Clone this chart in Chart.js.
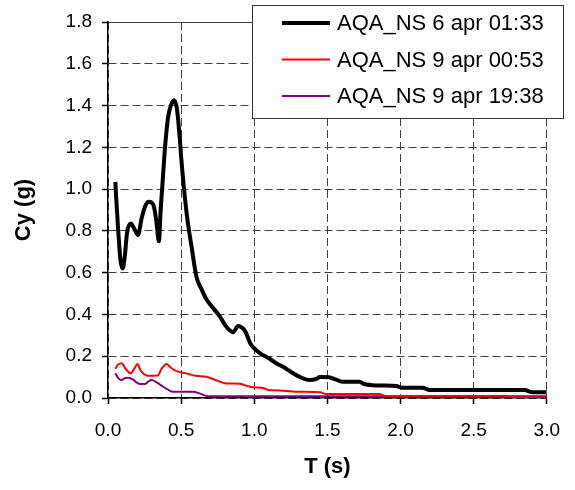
<!DOCTYPE html>
<html>
<head>
<meta charset="utf-8">
<script src="https://cdn.jsdelivr.net/npm/chart.js@4/dist/chart.umd.min.js"></script>
<style>
  html, body { margin: 0; padding: 0; background: #fff; }
  canvas { display: block; }
</style>
</head>
<body>
<canvas id="spectrumChart" width="575" height="490"></canvas>
<script>
// series labels
const seriesNames = ["AQA_NS 6 apr 01:33", "AQA_NS 9 apr 00:53", "AQA_NS 9 apr 19:38"];

// AQA_NS 6 apr 01:33 - period T (s) and Cy (g)
const blackT = [0.05, 0.055, 0.07, 0.085, 0.10, 0.115, 0.13, 0.155, 0.18, 0.205, 0.23, 0.255, 0.28, 0.31, 0.33, 0.348,
    0.36, 0.37, 0.39, 0.41, 0.43, 0.45, 0.47, 0.49, 0.50, 0.52, 0.54, 0.57, 0.605, 0.64, 0.675, 0.72, 0.765, 0.80,
    0.83, 0.855, 0.89, 0.92, 0.945, 0.97, 0.99, 1.04, 1.10, 1.15, 1.20, 1.25, 1.30, 1.38, 1.42, 1.45, 1.51, 1.56,
    1.60, 1.72, 1.75, 1.85, 1.97, 2.01, 2.15, 2.20, 2.85, 2.90, 3.0];
const blackCy = [1.035, 0.97, 0.80, 0.66, 0.62, 0.68, 0.79, 0.835, 0.81, 0.78, 0.86, 0.92, 0.94, 0.925, 0.85, 0.75,
    0.90, 1.00, 1.20, 1.34, 1.40, 1.425, 1.39, 1.25, 1.155, 1.00, 0.87, 0.73, 0.58, 0.52, 0.47, 0.43, 0.39, 0.35,
    0.325, 0.315, 0.345, 0.335, 0.31, 0.265, 0.245, 0.214, 0.19, 0.166, 0.148, 0.125, 0.105, 0.086, 0.09, 0.10, 0.099, 0.088,
    0.078, 0.078, 0.067, 0.06, 0.057, 0.049, 0.049, 0.038, 0.038, 0.027, 0.027];

// AQA_NS 9 apr 00:53
const redT = [0.05, 0.07, 0.093, 0.12, 0.155, 0.18, 0.202, 0.22, 0.245, 0.275, 0.34, 0.366, 0.40, 0.43, 0.468, 0.536,
    0.60, 0.673, 0.74, 0.81, 0.90, 0.95, 0.99, 1.06, 1.10, 1.20, 1.30, 1.45, 1.49, 1.85, 1.90, 2.70, 2.80, 3.0];
const redCy = [0.14, 0.16, 0.166, 0.14, 0.118, 0.14, 0.163, 0.135, 0.115, 0.107, 0.108, 0.14, 0.163, 0.145, 0.129, 0.118,
    0.106, 0.102, 0.085, 0.07, 0.068, 0.058, 0.052, 0.048, 0.038, 0.035, 0.03, 0.028, 0.019, 0.019, 0.01, 0.01, 0.002, 0.002];

// AQA_NS 9 apr 19:38
const purpleT = [0.05, 0.07, 0.093, 0.115, 0.138, 0.17, 0.20, 0.218, 0.252, 0.275, 0.298, 0.33, 0.377, 0.41, 0.445,
    0.58, 0.627, 0.684, 3.0];
const purpleCy = [0.118, 0.095, 0.086, 0.095, 0.097, 0.089, 0.072, 0.067, 0.067, 0.078, 0.086, 0.076, 0.054, 0.04, 0.03,
    0.03, 0.022, 0.008, 0.008];

// axis ranges
const xTicks = [0, 3.0, 0.5];   // min, max, step
const yTicks = [0, 1.8, 0.2];

function toPoints(tArr, cArr) {
    return tArr.map((t, i) => ({ x: t, y: cArr[i] }));
}

const FONT = "'Liberation Sans', Arial, Helvetica, sans-serif";

// legend box drawn over the plot, like the Excel original
const boxLegend = {
    id: "boxLegend",
    afterDraw(chart) {
        const ctx = chart.ctx;
        const x = 252.5, y = 5.5, w = 311, h = 113;
        ctx.save();
        ctx.fillStyle = "#fff";
        ctx.fillRect(x, y, w, h);
        ctx.strokeStyle = "#333";
        ctx.lineWidth = 1;
        ctx.strokeRect(x, y, w, h);
        ctx.font = "22px " + FONT;
        ctx.textBaseline = "middle";
        ctx.fillStyle = "#000";
        chart.data.datasets.forEach((ds, i) => {
            const cy = 23 + i * 36.5;
            ctx.beginPath();
            ctx.strokeStyle = ds.borderColor;
            ctx.lineWidth = ds.borderWidth;
            ctx.moveTo(282, cy);
            ctx.lineTo(330, cy);
            ctx.stroke();
            ctx.fillText(ds.label, 337, cy + 1);
        });
        ctx.restore();
    }
};

const ctx = document.getElementById("spectrumChart").getContext("2d");

new Chart(ctx, {
    type: "line",
    data: {
        datasets: [{
            label: seriesNames[0],
            data: toPoints(blackT, blackCy),
            borderColor: "#000000",
            borderWidth: 4
        }, {
            label: seriesNames[1],
            data: toPoints(redT, redCy),
            borderColor: "#ff0000",
            borderWidth: 2
        }, {
            label: seriesNames[2],
            data: toPoints(purpleT, purpleCy),
            borderColor: "#800080",
            borderWidth: 2
        }]
    },
    options: {
        responsive: false,
        animation: false,
        devicePixelRatio: 1,
        layout: { padding: { top: 22, right: 27, left: 0, bottom: 0 } },
        elements: {
            point: { radius: 0 },
            line: { cubicInterpolationMode: "monotone", fill: false }
        },
        plugins: {
            legend: { display: false },
            tooltip: { enabled: false }
        },
        scales: {
            x: {
                type: "linear",
                min: xTicks[0],
                max: xTicks[1],
                afterFit: scale => { scale.height = 92; },
                ticks: {
                    stepSize: xTicks[2],
                    color: "#000",
                    padding: 15,
                    font: { family: FONT, size: 19 },
                    callback: v => v.toFixed(1)
                },
                grid: {
                    color: "#404040",
                    lineWidth: 1,
                    tickLength: 6,
                    tickColor: "#000",
                    tickWidth: 1.5
                },
                border: { display: true, color: "#000", width: 1.5, dash: [8, 4] },
                title: {
                    display: true,
                    text: "T (s)",
                    color: "#000",
                    font: { family: FONT, size: 22, weight: "bold" },
                    padding: { top: 0, bottom: 10 }
                }
            },
            y: {
                type: "linear",
                min: yTicks[0],
                max: yTicks[1],
                afterFit: scale => { scale.width = 108; },
                ticks: {
                    stepSize: yTicks[2],
                    color: "#000",
                    padding: 10,
                    font: { family: FONT, size: 19 },
                    callback: v => v.toFixed(1)
                },
                grid: {
                    color: "#404040",
                    lineWidth: 1,
                    tickLength: 6,
                    tickColor: "#000",
                    tickWidth: 1.5
                },
                border: {
                    display: true, color: "#000", width: 1.5,
                    dash: c => (c.tick && Math.abs(c.tick.value - yTicks[1]) < 1e-6) ? [] : [8, 4]
                },
                title: {
                    display: true,
                    text: "Cy (g)",
                    color: "#000",
                    font: { family: FONT, size: 22, weight: "bold" },
                    padding: { top: 11, bottom: 0 }
                }
            }
        }
    },
    plugins: [boxLegend]
});
</script>
</body>
</html>
